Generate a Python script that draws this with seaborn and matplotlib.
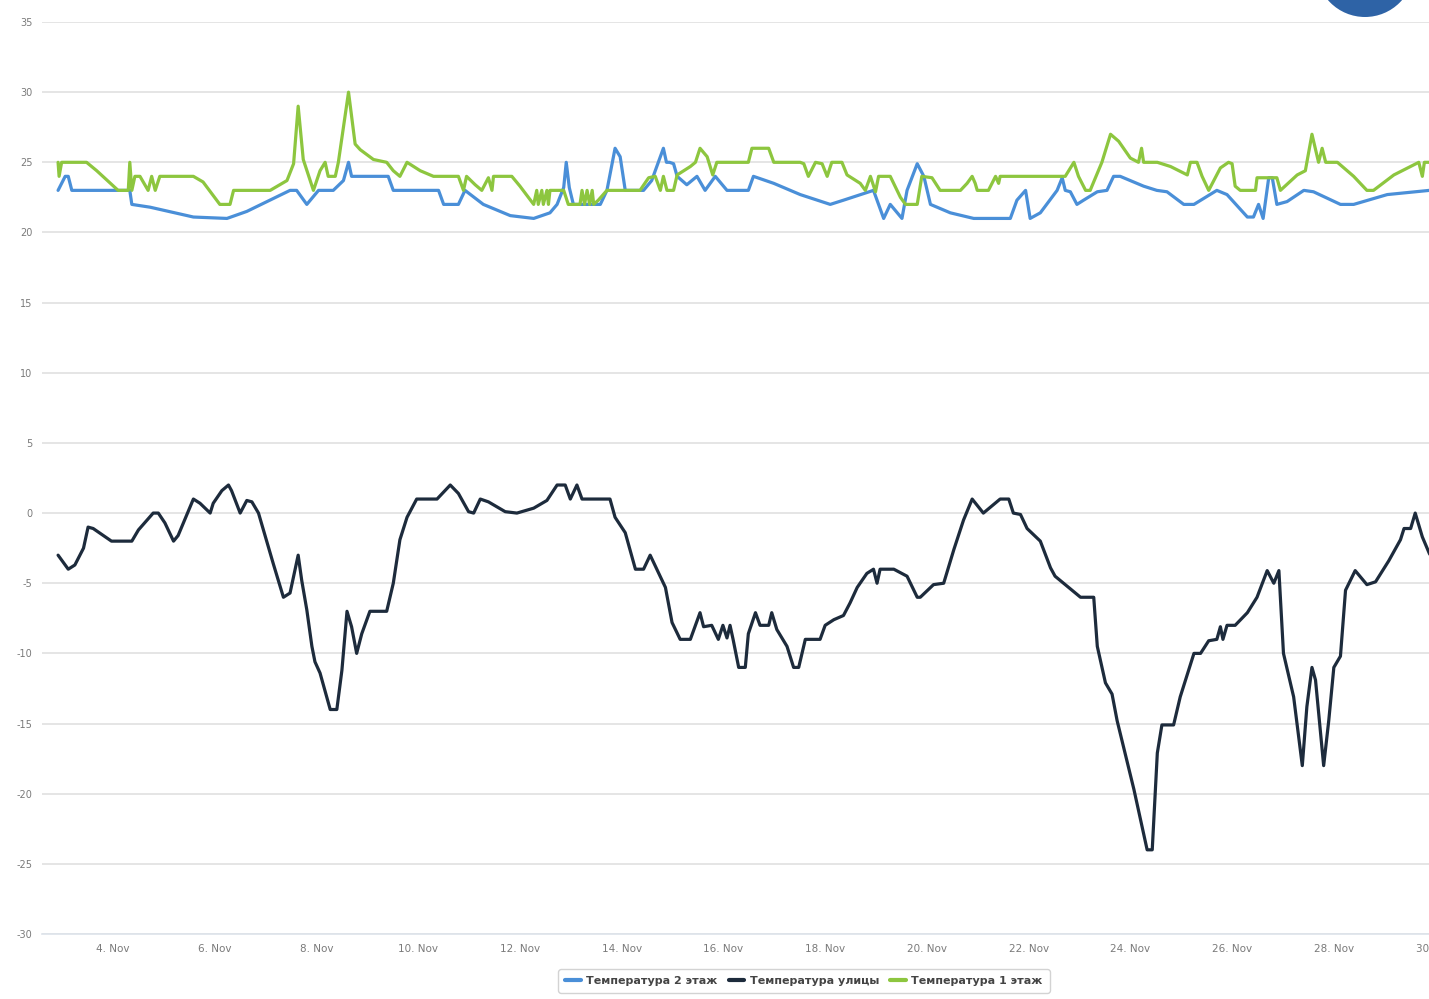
import pandas as pd
import numpy as np
import matplotlib
matplotlib.use('Agg')
import matplotlib.pyplot as plt
import matplotlib.dates as mdates
from matplotlib.patches import Ellipse
import seaborn as sns

# день ноября (дробный) и температура
day_2 = [2.92, 3.06, 3.12, 3.19, 4.33, 4.37, 4.73, 5.58, 6.24, 6.63, 7.48, 7.61, 7.81,
         8.04, 8.33, 8.53, 8.63, 8.69, 9.41, 9.51, 10.40, 10.50, 10.79, 10.92, 11.28,
         11.81, 12.27, 12.59, 12.73, 12.86, 12.91, 12.97, 13.05, 13.58, 13.71, 13.87,
         13.97, 14.07, 14.43, 14.59, 14.69, 14.82, 14.88, 14.94, 15.02, 15.09, 15.28,
         15.48, 15.64, 15.84, 16.07, 16.49, 16.59, 16.99, 17.51, 18.10, 18.36, 18.95,
         19.02, 19.15, 19.28, 19.51, 19.61, 19.81, 19.94, 20.07, 20.46, 20.92, 21.64,
         21.77, 21.94, 22.03, 22.23, 22.56, 22.66, 22.72, 22.82, 22.95, 23.08, 23.35,
         23.54, 23.67, 23.80, 24.26, 24.52, 24.72, 25.05, 25.25, 25.70, 25.90, 26.30,
         26.42, 26.52, 26.61, 26.72, 26.79, 26.88, 27.08, 27.41, 27.60, 28.13, 28.39,
         29.05, 29.88, 30.2]
temp_2 = [23, 24, 24, 23, 23, 22, 21.8, 21.1, 21, 21.5, 23, 23, 22,
          23, 23, 23.7, 25, 24, 24, 23, 23, 22, 22, 23, 22,
          21.2, 21, 21.4, 22, 23.2, 25, 23.2, 22, 22, 23, 26,
          25.4, 23, 23, 23.7, 24.7, 26, 25, 25, 24.9, 24, 23.4,
          24, 23, 24, 23, 23, 24, 23.5, 22.7, 22, 22.3, 23,
          22.3, 21, 22, 21, 23, 24.9, 24, 22, 21.4, 21, 21,
          22.3, 23, 21, 21.4, 23, 23.9, 23, 22.9, 22, 22.3, 22.9,
          23, 24, 24, 23.3, 23, 22.9, 22, 22, 23, 22.7, 21.1,
          21.1, 22, 21, 23.9, 23.9, 22, 22.2, 23, 22.9, 22, 22,
          22.7, 23, 23]

day_out = [2.92, 3.12, 3.25, 3.42, 3.51, 3.61, 3.97, 4.37, 4.50, 4.79, 4.89, 5.02, 5.19,
           5.28, 5.58, 5.71, 5.91, 5.97, 6.14, 6.27, 6.33, 6.50, 6.63, 6.73, 6.86, 7.02,
           7.15, 7.35, 7.48, 7.64, 7.71, 7.81, 7.91, 7.97, 8.07, 8.27, 8.40, 8.50, 8.60,
           8.69, 8.79, 8.89, 9.05, 9.38, 9.51, 9.64, 9.78, 9.97, 10.37, 10.63, 10.79,
           10.99, 11.09, 11.22, 11.38, 11.71, 11.94, 12.27, 12.53, 12.73, 12.89, 12.99,
           13.12, 13.22, 13.77, 13.87, 14.07, 14.27, 14.43, 14.56, 14.69, 14.86, 14.99,
           15.15, 15.35, 15.54, 15.61, 15.77, 15.90, 15.99, 16.07, 16.13, 16.19, 16.30,
           16.43, 16.49, 16.63, 16.72, 16.89, 16.95, 17.05, 17.25, 17.38, 17.48, 17.61,
           17.90, 18.00, 18.17, 18.36, 18.49, 18.63, 18.82, 18.95, 19.02, 19.08, 19.35,
           19.61, 19.81, 19.87, 20.13, 20.33, 20.53, 20.72, 20.89, 21.11, 21.44, 21.61,
           21.70, 21.84, 21.97, 22.23, 22.43, 22.52, 23.02, 23.28, 23.35, 23.51, 23.64,
           23.74, 24.07, 24.33, 24.43, 24.53, 24.62, 24.85, 24.98, 25.25, 25.38, 25.54,
           25.70, 25.77, 25.82, 25.90, 26.06, 26.30, 26.49, 26.69, 26.82, 26.92, 27.01,
           27.21, 27.38, 27.47, 27.57, 27.64, 27.80, 27.90, 28.00, 28.13, 28.23, 28.42,
           28.65, 28.82, 29.08, 29.31, 29.38, 29.51, 29.60, 29.74, 29.88, 30.2]
temp_out = [-3, -4, -3.7, -2.5, -1, -1.1, -2, -2, -1.2, 0, 0, -0.7, -2,
            -1.6, 1, 0.7, 0, 0.7, 1.6, 2, 1.6, 0, 0.9, 0.8, 0, -2,
            -3.6, -6, -5.7, -3, -4.8, -6.9, -9.5, -10.6, -11.4, -14, -14, -11.2, -7,
            -8.1, -10, -8.6, -7, -7, -5, -1.9, -0.3, 1, 1, 2, 1.4,
            0.1, 0, 1, 0.8, 0.1, 0, 0.35, 0.9, 2, 2, 1,
            2, 1, 1, -0.3, -1.4, -4, -4, -3, -4, -5.3, -7.8,
            -9, -9, -7.1, -8.1, -8, -9, -8, -8.9, -8, -9, -11,
            -11, -8.6, -7.1, -8, -8, -7.1, -8.3, -9.5, -11, -11, -9,
            -9, -8, -7.6, -7.3, -6.4, -5.3, -4.3, -4, -5, -4, -4,
            -4.5, -6, -6, -5.1, -5, -2.6, -0.5, 1, 0, 1, 1,
            0, -0.1, -1.1, -2, -3.9, -4.5, -6, -6, -9.5, -12.1, -12.9,
            -14.8, -19.7, -24, -24, -17.1, -15.1, -15.1, -13.1, -10, -10, -9.1,
            -9, -8.1, -9, -8, -8, -7.1, -6, -4.1, -5, -4.1, -10,
            -13.1, -18, -13.8, -11, -11.9, -18, -14.8, -11, -10.2, -5.5, -4.1,
            -5.1, -4.9, -3.4, -1.9, -1.1, -1.1, 0, -1.7, -2.9, -4.5]

day_1 = [2.92, 2.94, 2.99, 3.48, 3.68, 4.10, 4.30, 4.33, 4.37, 4.43, 4.53, 4.69, 4.76,
         4.83, 4.92, 5.58, 5.77, 6.10, 6.30, 6.37, 7.09, 7.42, 7.55, 7.64, 7.74, 7.94,
         8.07, 8.17, 8.23, 8.37, 8.43, 8.63, 8.76, 8.86, 9.12, 9.38, 9.51, 9.64, 9.78,
         10.04, 10.30, 10.79, 10.89, 10.95, 11.12, 11.25, 11.38, 11.45, 11.48, 11.84,
         12.00, 12.27, 12.33, 12.36, 12.43, 12.46, 12.53, 12.56, 12.59, 12.86, 12.95,
         13.18, 13.22, 13.27, 13.32, 13.37, 13.42, 13.45, 13.54, 13.71, 14.36, 14.53,
         14.66, 14.76, 14.82, 14.89, 15.02, 15.09, 15.35, 15.45, 15.54, 15.68, 15.79,
         15.87, 16.49, 16.56, 16.89, 16.99, 17.51, 17.58, 17.67, 17.81, 17.94, 18.04,
         18.13, 18.33, 18.43, 18.69, 18.79, 18.89, 18.99, 19.05, 19.28, 19.48, 19.58,
         19.81, 19.90, 20.10, 20.26, 20.66, 20.79, 20.89, 20.95, 20.99, 21.21, 21.35,
         21.41, 21.44, 22.72, 22.89, 22.98, 23.12, 23.21, 23.44, 23.61, 23.77, 24.00,
         24.16, 24.22, 24.26, 24.53, 24.79, 25.12, 25.18, 25.31, 25.41, 25.54, 25.77,
         25.93, 26.00, 26.06, 26.16, 26.46, 26.49, 26.88, 26.95, 27.28, 27.44, 27.57,
         27.70, 27.77, 27.84, 28.07, 28.39, 28.65, 28.78, 29.18, 29.67, 29.74, 29.78,
         29.88, 30.2]
temp_1 = [25, 24, 25, 25, 24.4, 23, 23, 25, 23, 24, 24, 23, 24,
          23, 24, 24, 23.6, 22, 22, 23, 23, 23.7, 24.9, 29, 25.2, 23,
          24.4, 25, 24, 24, 25, 30, 26.3, 25.9, 25.2, 25, 24.4, 24, 25,
          24.4, 24, 24, 23, 24, 23.4, 23, 23.9, 23, 24, 24,
          23.3, 22, 23, 22, 23, 22, 23, 22, 23, 23, 22,
          22, 23, 22, 23, 22, 23, 22, 22.3, 23, 23, 23.9,
          24, 23, 24, 23, 23, 24.1, 24.7, 25, 26, 25.4, 24.1,
          25, 25, 26, 26, 25, 25, 24.9, 24, 25, 24.9, 24,
          25, 25, 24.1, 23.5, 23, 24, 22.9, 24, 24, 22.5, 22,
          22, 24, 23.9, 23, 23, 23.5, 24, 23.5, 23, 23, 24,
          23.5, 24, 24, 25, 24, 23, 23, 25, 27, 26.5, 25.3,
          25, 26, 25, 25, 24.7, 24.1, 25, 25, 24, 23, 24.6,
          25, 24.9, 23.3, 23, 23, 23.9, 23.9, 23, 24.1, 24.4, 27,
          25, 26, 25, 25, 24, 23, 23, 24.1, 25, 24, 25,
          25, 25]

names = ['Температура 2 этаж', 'Температура улицы', 'Температура 1 этаж']
colors = ['#4a8fd8', '#1d2b3c', '#8dc63f']
y_ticks = list(range(-30, 40, 5))
x_tick_days = list(range(4, 31, 2))

base = pd.Timestamp('2019-11-01')


def to_time(days):
    return base + pd.to_timedelta(np.array(days) - 1, unit='D')


parts = []
for name, d, t in zip(names, [day_2, day_out, day_1], [temp_2, temp_out, temp_1]):
    parts.append(pd.DataFrame({'time': to_time(d), 'temp': t, 'series': name}))
df = pd.concat(parts, ignore_index=True)

sns.set_theme(style='white')
plt.rcParams['font.family'] = ['DejaVu Sans']
plt.rcParams['axes.unicode_minus'] = False

fig = plt.figure(figsize=(14.29, 9.99), dpi=100)
fig.patch.set_facecolor('white')
ax = fig.add_axes([42 / 1429, 65 / 999, (1461 - 42) / 1429, 912 / 999])

sns.lineplot(data=df, x='time', y='temp', hue='series', hue_order=names,
             palette=colors, estimator=None, sort=True, linewidth=2.3, ax=ax,
             legend=True)

ax.set_ylim(-30, 35)
ax.set_xlim(to_time([2.604])[0], to_time([30.5])[0])
ax.set_yticks(y_ticks)
ax.set_xticks(to_time(x_tick_days))
ax.xaxis.set_major_formatter(mdates.DateFormatter('%-d. %b'))
ax.grid(axis='y', color='#e3e3e3', linewidth=1.3)
ax.grid(axis='x', visible=False)
ax.set_axisbelow(True)
for s in ['top', 'right', 'left']:
    ax.spines[s].set_visible(False)
ax.spines['bottom'].set_color('#dde3ea')
ax.spines['bottom'].set_linewidth(1.2)
ax.tick_params(axis='y', length=0, pad=7, labelsize=7, labelcolor='#7a7a7a')
ax.tick_params(axis='x', length=6, width=1, color='#dde3ea', pad=1,
               labelsize=7.5, labelcolor='#7a7a7a', direction='out')
ax.set_xlabel('')
ax.set_ylabel('')

handles, labels = ax.get_legend_handles_labels()
ax.get_legend().remove()
leg = fig.legend(handles, labels, loc='center', bbox_to_anchor=(804 / 1429, 18 / 999),
                 ncol=3, frameon=True, fontsize=8, handlelength=1.4,
                 columnspacing=1.0, handletextpad=0.5, borderpad=0.6,
                 fancybox=True, edgecolor='#c8c8c8')
for txt in leg.get_texts():
    txt.set_color('#444444')
    txt.set_fontweight('bold')
for line in leg.get_lines():
    line.set_linewidth(3)

# кнопка в углу скриншота
fig.patches.append(Ellipse((1365 / 1429, 1 + 32 / 999), 98 / 1429, 98 / 999,
                           transform=fig.transFigure, facecolor='#2e63a6',
                           edgecolor='none', zorder=10))

fig.savefig('out.png', dpi=100, facecolor='white')
